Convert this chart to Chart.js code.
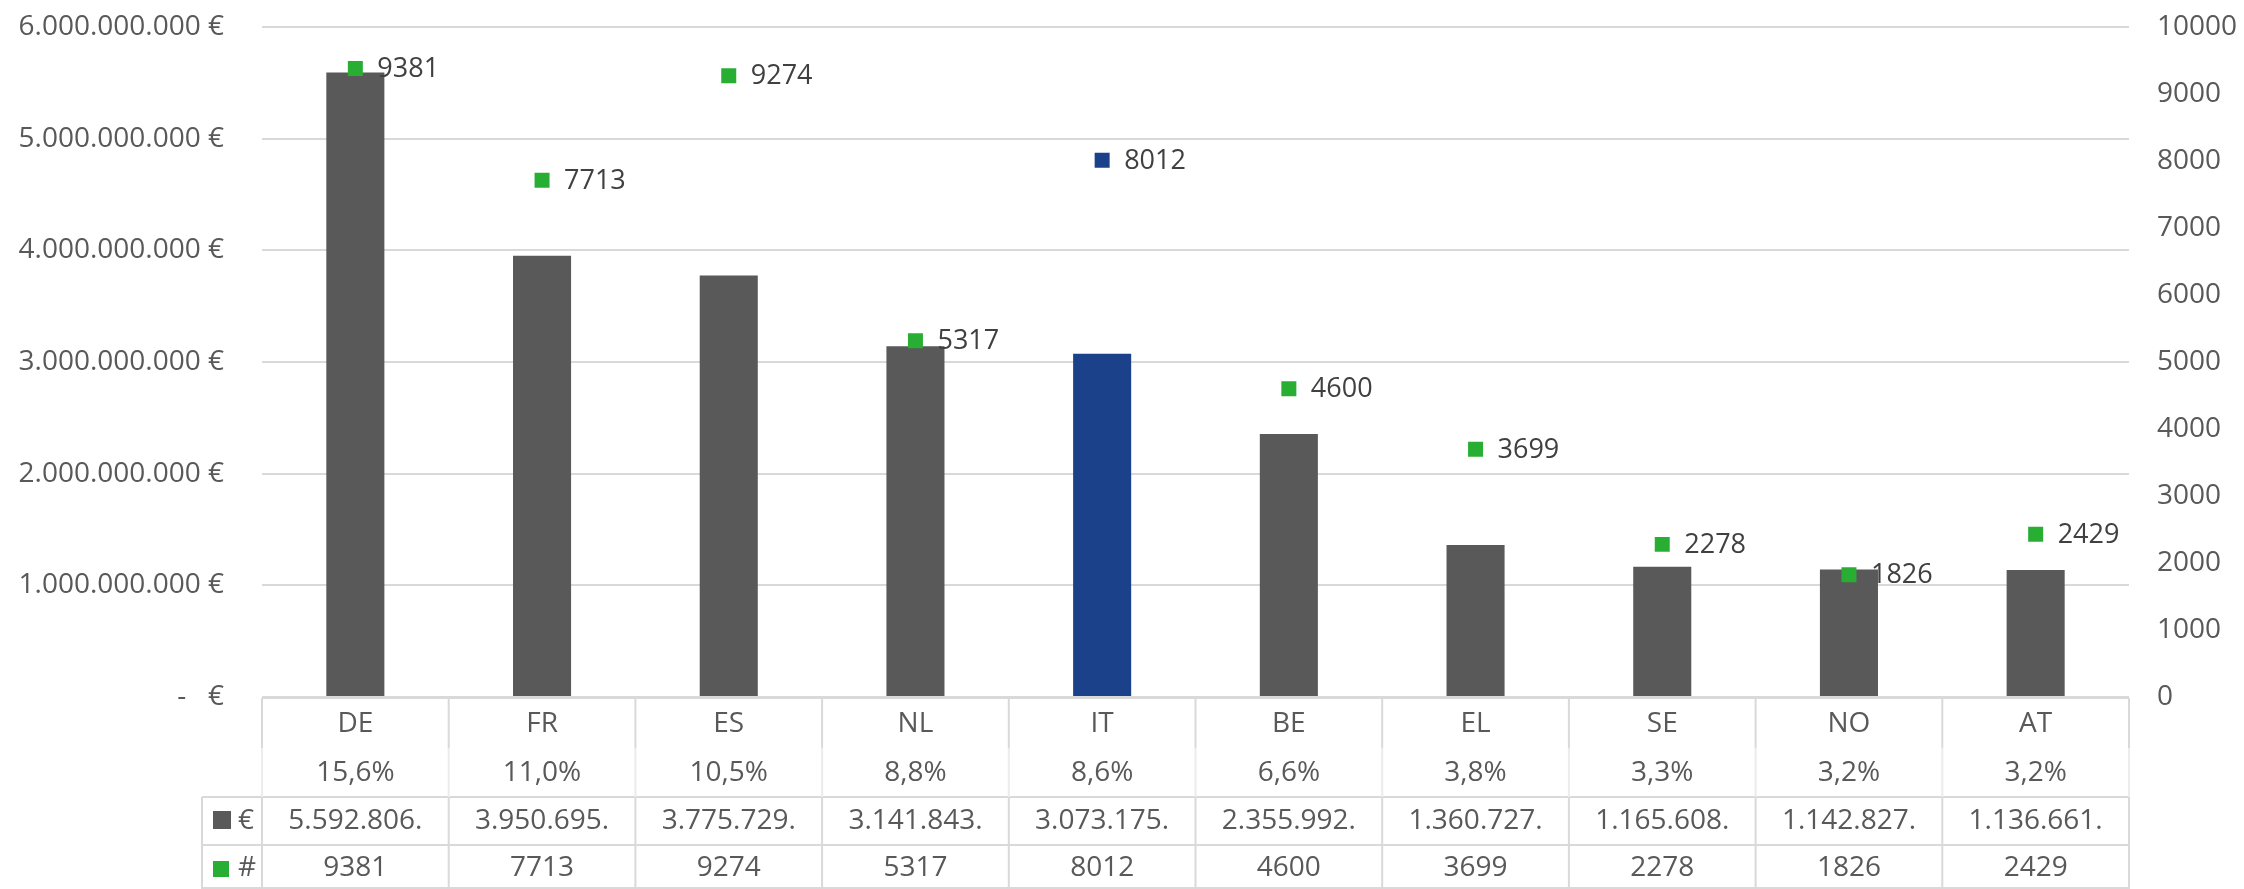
<!DOCTYPE html>
<html>
<head>
<meta charset="utf-8">
<script src="https://cdn.jsdelivr.net/npm/chart.js@4/dist/chart.umd.min.js"></script>
<style>
  html, body { margin: 0; padding: 0; background: #ffffff; }
  #wrap { width: 2244px; height: 889px; position: relative; }
</style>
</head>
<body>
<div id="wrap"><canvas id="c" width="2244" height="889"></canvas></div>
<script>
// ---- data ----
const categories = ["DE", "FR", "ES", "NL", "IT", "BE", "EL", "SE", "NO", "AT"];
const sharePercent = [15.6, 11.0, 10.5, 8.8, 8.6, 6.6, 3.8, 3.3, 3.2, 3.2];
const euroValues = [5592806000, 3950695000, 3775729000, 3141843000, 3073175000,
                    2355992000, 1360727000, 1165608000, 1142827000, 1136661000];
const countValues = [9381, 7713, 9274, 5317, 8012, 4600, 3699, 2278, 1826, 2429];
const highlightCategory = "IT";
const euroSeriesLabel = "€";
const countSeriesLabel = "#";
const leftTicksMax = 6000000000;
const leftTicksStep = 1000000000;
const rightTicksMax = 10000;
const rightTicksStep = 1000;

// ---- styles ----
const GREY_BAR = "#595959";
const BLUE = "#1b418a";
const GREEN = "#29ae34";
const GRID = "#d9d9d9";
const TEXT = "#595959";
const LABEL = "#404040";
const FONT = "'Open Sans', 'Noto Sans', sans-serif";

function dotThousands(n) {
  const s = Math.round(n).toString();
  return s.replace(/\B(?=(\d{3})+(?!\d))/g, ".");
}
function euroCell(v) { return dotThousands(v).slice(0, 10); }
function pctCell(p) { return p.toFixed(1).replace(".", ",") + "%"; }

const barColors = categories.map(c => c === highlightCategory ? BLUE : GREY_BAR);
const pointColors = categories.map(c => c === highlightCategory ? BLUE : GREEN);

const pointLabelPlugin = {
  id: "pointLabels",
  afterDatasetsDraw(chart) {
    const ctx = chart.ctx;
    const meta = chart.getDatasetMeta(1);
    ctx.save();
    ctx.font = "27px " + FONT;
    ctx.fillStyle = LABEL;
    ctx.textAlign = "left";
    ctx.textBaseline = "middle";
    meta.data.forEach((pt, i) => {
      ctx.fillText(String(countValues[i]), pt.x + 22, pt.y + 1);
    });
    ctx.restore();
  }
};

const tablePlugin = {
  id: "dataTable",
  afterDraw(chart) {
    const ctx = chart.ctx;
    const xs = chart.scales.x;
    const area = chart.chartArea;
    const n = categories.length;
    const colW = (area.right - area.left) / n;
    const top = area.bottom + 1;
    const rowSplit = 748;
    const r2 = 797, r3 = 845, bottom = 889;
    const legendLeft = 202;
    ctx.save();
    ctx.strokeStyle = GRID;
    ctx.lineWidth = 2;
    ctx.beginPath();
    ctx.moveTo(area.left, top); ctx.lineTo(area.right, top);
    ctx.moveTo(legendLeft, r2); ctx.lineTo(area.right, r2);
    ctx.moveTo(legendLeft, r3); ctx.lineTo(area.right, r3);
    ctx.moveTo(legendLeft, bottom - 1); ctx.lineTo(area.right, bottom - 1);
    for (let i = 0; i <= n; i++) {
      const x = area.left + i * colW;
      ctx.moveTo(x, top); ctx.lineTo(x, rowSplit);
      ctx.moveTo(x, r2); ctx.lineTo(x, bottom);
    }
    ctx.moveTo(legendLeft, r2); ctx.lineTo(legendLeft, bottom);
    ctx.stroke();
    ctx.strokeStyle = "#ececec";
    ctx.beginPath();
    for (let i = 0; i <= n; i++) {
      const x = area.left + i * colW;
      ctx.moveTo(x, rowSplit); ctx.lineTo(x, r2);
    }
    ctx.stroke();

    ctx.font = "28px " + FONT;
    ctx.fillStyle = TEXT;
    ctx.textAlign = "center";
    ctx.textBaseline = "middle";
    for (let i = 0; i < n; i++) {
      const cx = xs.getPixelForValue(i);
      ctx.fillText(categories[i], cx, 724);
      ctx.fillText(pctCell(sharePercent[i]), cx, 773);
      ctx.fillText(euroCell(euroValues[i]), cx, 821);
      ctx.fillText(String(countValues[i]), cx, 868);
    }
    ctx.fillStyle = GREY_BAR;
    ctx.fillRect(213, 811, 18, 18);
    ctx.fillStyle = GREEN;
    ctx.fillRect(213, 861, 16, 16);
    ctx.fillStyle = TEXT;
    ctx.textAlign = "left";
    ctx.fillText(euroSeriesLabel, 238, 821);
    ctx.fillText(countSeriesLabel, 238, 868);
    ctx.restore();
  }
};

function fixAxis(width) {
  return function (scale) {
    scale.width = width;
    scale.paddingTop = 0;
    scale.paddingBottom = 0;
  };
}

new Chart(document.getElementById("c"), {
  type: "bar",
  data: {
    labels: categories,
    datasets: [
      {
        type: "bar",
        label: euroSeriesLabel,
        data: euroValues,
        backgroundColor: barColors,
        borderWidth: 0,
        categoryPercentage: 1.0,
        barPercentage: 0.311,
        yAxisID: "y",
        order: 2
      },
      {
        type: "line",
        label: countSeriesLabel,
        data: countValues,
        showLine: false,
        pointStyle: "rect",
        pointRadius: 10.6,
        pointHoverRadius: 10.6,
        pointBackgroundColor: pointColors,
        pointBorderColor: pointColors,
        pointBorderWidth: 0,
        yAxisID: "y1",
        order: 1
      }
    ]
  },
  options: {
    responsive: false,
    animation: false,
    devicePixelRatio: 1,
    layout: { padding: { top: 27, bottom: 192, left: 0, right: 0 } },
    plugins: { legend: { display: false }, tooltip: { enabled: false } },
    scales: {
      x: {
        display: false,
        offset: true
      },
      y: {
        position: "left",
        min: 0,
        max: leftTicksMax,
        afterFit: fixAxis(262),
        border: { display: false },
        grid: { color: GRID, lineWidth: 2, drawTicks: false },
        ticks: {
          stepSize: leftTicksStep,
          padding: 38,
          color: TEXT,
          font: { family: FONT, size: 28 },
          callback(v) { return v === 0 ? "-   €" : dotThousands(v) + " €"; }
        }
      },
      y1: {
        position: "right",
        min: 0,
        max: rightTicksMax,
        afterFit: fixAxis(115),
        border: { display: false },
        grid: { drawOnChartArea: false, drawTicks: false },
        ticks: {
          stepSize: rightTicksStep,
          padding: 28,
          color: TEXT,
          font: { family: FONT, size: 28 },
          callback(v) { return String(v); }
        }
      }
    }
  },
  plugins: [pointLabelPlugin, tablePlugin]
});
</script>
</body>
</html>
